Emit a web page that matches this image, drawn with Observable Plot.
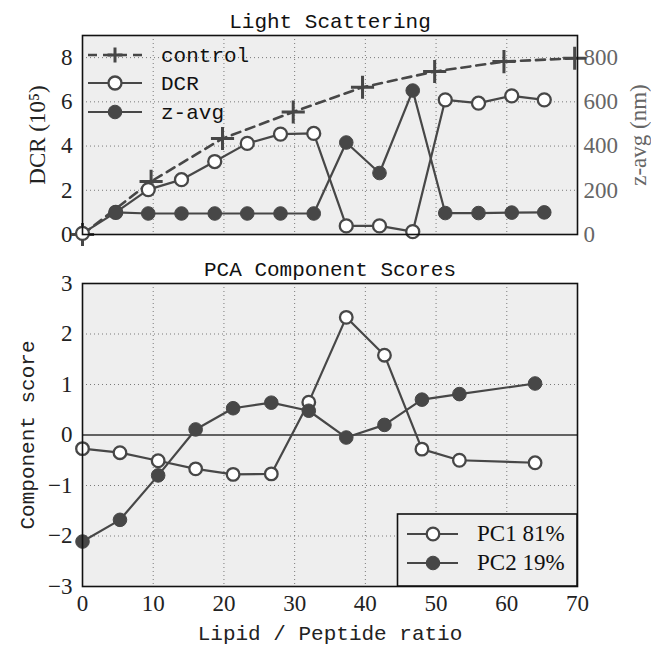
<!DOCTYPE html>
<html><head><meta charset="utf-8">
<script src="https://cdn.jsdelivr.net/npm/d3@7"></script>
<script src="https://cdn.jsdelivr.net/npm/@observablehq/plot@0.6"></script>
<style>
body{margin:0;background:#fff;}
#chart{width:651px;height:648px;}
#chart svg{display:block;overflow:visible;}
</style></head><body><div id="chart"></div>
<script>
// ---- Light Scattering data ----
const controlX = [0, 9.7, 19.8, 29.8, 39.6, 49.8, 59.6, 69.6];
const controlY = [0, 2.4, 4.34, 5.54, 6.66, 7.37, 7.82, 7.97];
const dcrX = [0, 4.7, 9.3, 14, 18.7, 23.3, 28, 32.7, 37.3, 42, 46.7, 51.3, 56, 60.7, 65.3];
const dcrY = [0.05, 1.0, 2.03, 2.48, 3.3, 4.12, 4.54, 4.57, 0.39, 0.39, 0.13, 6.09, 5.94, 6.27, 6.09];
const zavgX = [4.7, 9.3, 14, 18.7, 23.3, 28, 32.7, 37.3, 42, 46.7, 51.3, 56, 60.7, 65.3];
const zavgNm = [100, 95, 95, 95, 95, 95, 95, 416, 278, 651, 97, 97, 99, 100];
const topYTicks = [0, 2, 4, 6, 8];
const topLegend = ["control", "DCR", "z-avg"];

// ---- PCA data ----
const pcaX = [0, 5.3, 10.7, 16, 21.3, 26.7, 32, 37.3, 42.7, 48, 53.3, 64];
const pc1 = [-0.27, -0.35, -0.51, -0.67, -0.78, -0.77, 0.65, 2.33, 1.58, -0.28, -0.5, -0.55];
const pc2 = [-2.11, -1.68, -0.8, 0.11, 0.53, 0.64, 0.48, -0.05, 0.2, 0.7, 0.81, 1.02];
const xTicks = [0, 10, 20, 30, 40, 50, 60, 70];
const pcaYTicks = [-3, -2, -1, 0, 1, 2, 3];
const pcaLegend = ["PC1 81%", "PC2 19%"];

const control = controlX.map((x, i) => ({x, y: controlY[i]}));
const dcr = dcrX.map((x, i) => ({x, y: dcrY[i]}));
const zavg = zavgX.map((x, i) => ({x, z: zavgNm[i]}));
const pca1 = pcaX.map((x, i) => ({x, y: pc1[i]}));
const pca2 = pcaX.map((x, i) => ({x, y: pc2[i]}));

const INK = "#474747";
const GRID = {stroke: "#7a7a7a", strokeOpacity: 1, strokeWidth: 1, strokeDasharray: "1,3"};
const SERIF = "'Liberation Serif', 'DejaVu Serif', serif";
const MONO = "'Liberation Mono', 'DejaVu Sans Mono', monospace";
const innerGrid = xTicks.filter(t => t > 0 && t < 70);
const intFmt = d => d < 0 ? "\u2212" + Math.abs(d) : String(d);

const topPlot = Plot.plot({
  width: 651, height: 250,
  marginLeft: 82, marginRight: 74, marginTop: 35, marginBottom: 16,
  style: {fontFamily: SERIF, fontSize: "23px", background: "white", overflow: "visible"},
  x: {domain: [0, 70], axis: null},
  y: {domain: [0, 9], axis: null},
  marks: [
    Plot.frame({fill: "#eeeeee"}),
    Plot.gridX(innerGrid, GRID),
    Plot.gridY(topYTicks.filter(t => t > 0), GRID),
    Plot.axisY(topYTicks, {anchor: "left", tickSize: 0, tickPadding: 10, fill: "#222", fontSize: 23,
      label: null, tickFormat: intFmt}),
    Plot.axisY(topYTicks, {anchor: "right", tickSize: 0, tickPadding: 6, fill: "#666", fontSize: 23,
      label: null, tickFormat: d => String(d * 100)}),
    Plot.line(control, {x: "x", y: "y", stroke: INK, strokeWidth: 2.6, strokeDasharray: "9,6"}),
    Plot.dot(control, {x: "x", y: "y", symbol: "plus", r: 7.5, stroke: INK, strokeWidth: 3}),
    Plot.line(dcr, {x: "x", y: "y", stroke: INK, strokeWidth: 2.2}),
    Plot.dot(dcr, {x: "x", y: "y", r: 6.5, fill: "white", stroke: INK, strokeWidth: 2.3}),
    Plot.line(zavg, {x: "x", y: d => d.z / 100, stroke: INK, strokeWidth: 2.2}),
    Plot.dot(zavg, {x: "x", y: d => d.z / 100, r: 6.8, fill: INK, stroke: INK, strokeWidth: 1}),
    Plot.frame({stroke: "#111", strokeWidth: 1.6}),
    Plot.text(["Light Scattering"], {frameAnchor: "top", dy: -8, lineAnchor: "bottom", textAnchor: "middle",
      fontFamily: MONO, fontSize: 21, fill: "#111"}),
    Plot.text(["DCR (10⁵)"], {frameAnchor: "left", dx: -45, rotate: -90, lineAnchor: "middle", textAnchor: "middle",
      fontFamily: SERIF, fontSize: 23, fill: "#222"}),
    Plot.text(["z-avg (nm)"], {frameAnchor: "right", dx: 61, rotate: -90, lineAnchor: "middle", textAnchor: "middle",
      fontFamily: SERIF, fontSize: 23, fill: "#666"})
  ]
});

const bottomPlot = Plot.plot({
  width: 651, height: 398,
  marginLeft: 82, marginRight: 74, marginTop: 33, marginBottom: 62,
  style: {fontFamily: SERIF, fontSize: "23px", background: "white", overflow: "visible"},
  x: {domain: [0, 70]},
  y: {domain: [-3, 3]},
  marks: [
    Plot.frame({fill: "#eeeeee"}),
    Plot.gridX(innerGrid, GRID),
    Plot.gridY(pcaYTicks.filter(t => t !== 0 && Math.abs(t) < 3), GRID),
    Plot.ruleY([0], {stroke: "#333", strokeWidth: 1.5}),
    Plot.axisX(xTicks, {anchor: "bottom", tickSize: 0, tickPadding: 8, fill: "#222", fontSize: 23,
      label: null, tickFormat: intFmt}),
    Plot.axisY(pcaYTicks, {anchor: "left", tickSize: 0, tickPadding: 10, fill: "#222", fontSize: 23,
      label: null, tickFormat: intFmt}),
    Plot.line(pca1, {x: "x", y: "y", stroke: INK, strokeWidth: 2.2}),
    Plot.dot(pca1, {x: "x", y: "y", r: 6.3, fill: "white", stroke: INK, strokeWidth: 2.3}),
    Plot.line(pca2, {x: "x", y: "y", stroke: INK, strokeWidth: 2.2}),
    Plot.dot(pca2, {x: "x", y: "y", r: 6.8, fill: INK, stroke: INK, strokeWidth: 1}),
    Plot.frame({stroke: "#111", strokeWidth: 1.6}),
    Plot.text(["PCA Component Scores"], {frameAnchor: "top", dy: -8, lineAnchor: "bottom", textAnchor: "middle",
      fontFamily: MONO, fontSize: 21, fill: "#111"}),
    Plot.text(["Lipid / Peptide ratio"], {frameAnchor: "bottom", dy: 47, lineAnchor: "middle", textAnchor: "middle",
      fontFamily: MONO, fontSize: 21, fill: "#222"}),
    Plot.text(["Component score"], {frameAnchor: "left", dx: -55, rotate: -90, lineAnchor: "middle", textAnchor: "middle",
      fontFamily: MONO, fontSize: 21, fill: "#222"})
  ]
});

const chart = document.getElementById("chart");
chart.appendChild(topPlot);
chart.appendChild(bottomPlot);

// ---- legends ----
{
  const g = d3.select(topPlot).append("g").attr("text-anchor", "start");
  const rows = [55, 83, 112];
  topLegend.forEach((name, i) => {
    const y = rows[i];
    g.append("line").attr("x1", 88).attr("x2", 142).attr("y1", y).attr("y2", y)
      .attr("stroke", INK).attr("stroke-width", i === 0 ? 2.6 : 2.2)
      .attr("stroke-dasharray", i === 0 ? "9,6" : null);
    if (i === 0) {
      g.append("path").attr("d", "M107.5," + y + "h15M115," + (y - 7.5) + "v15")
        .attr("stroke", INK).attr("stroke-width", 3).attr("fill", "none");
    } else {
      g.append("circle").attr("cx", 115).attr("cy", y).attr("r", i === 1 ? 6.5 : 6.8)
        .attr("fill", i === 1 ? "white" : INK).attr("stroke", INK).attr("stroke-width", i === 1 ? 2.3 : 1);
    }
    g.append("text").attr("x", 161).attr("y", y).attr("dy", "0.32em").attr("text-anchor", "start")
      .attr("font-family", MONO).attr("font-size", 21).attr("fill", "#111").text(name);
  });
}
{
  const g = d3.select(bottomPlot).append("g").attr("text-anchor", "start");
  g.append("rect").attr("x", 397.5).attr("y", 264).attr("width", 179.5).attr("height", 72)
    .attr("fill", "#eeeeee").attr("stroke", "#111").attr("stroke-width", 1.6);
  const rows = [284, 313];
  pcaLegend.forEach((name, i) => {
    const y = rows[i];
    g.append("line").attr("x1", 407).attr("x2", 458).attr("y1", y).attr("y2", y)
      .attr("stroke", INK).attr("stroke-width", 2.2);
    g.append("circle").attr("cx", 433).attr("cy", y).attr("r", i === 0 ? 6.3 : 6.8)
      .attr("fill", i === 0 ? "white" : INK).attr("stroke", INK).attr("stroke-width", i === 0 ? 2.3 : 1);
    g.append("text").attr("x", 477).attr("y", y).attr("dy", "0.32em").attr("text-anchor", "start")
      .attr("font-family", SERIF).attr("font-size", 23).attr("fill", "#111").text(name);
  });
}
</script></body></html>
